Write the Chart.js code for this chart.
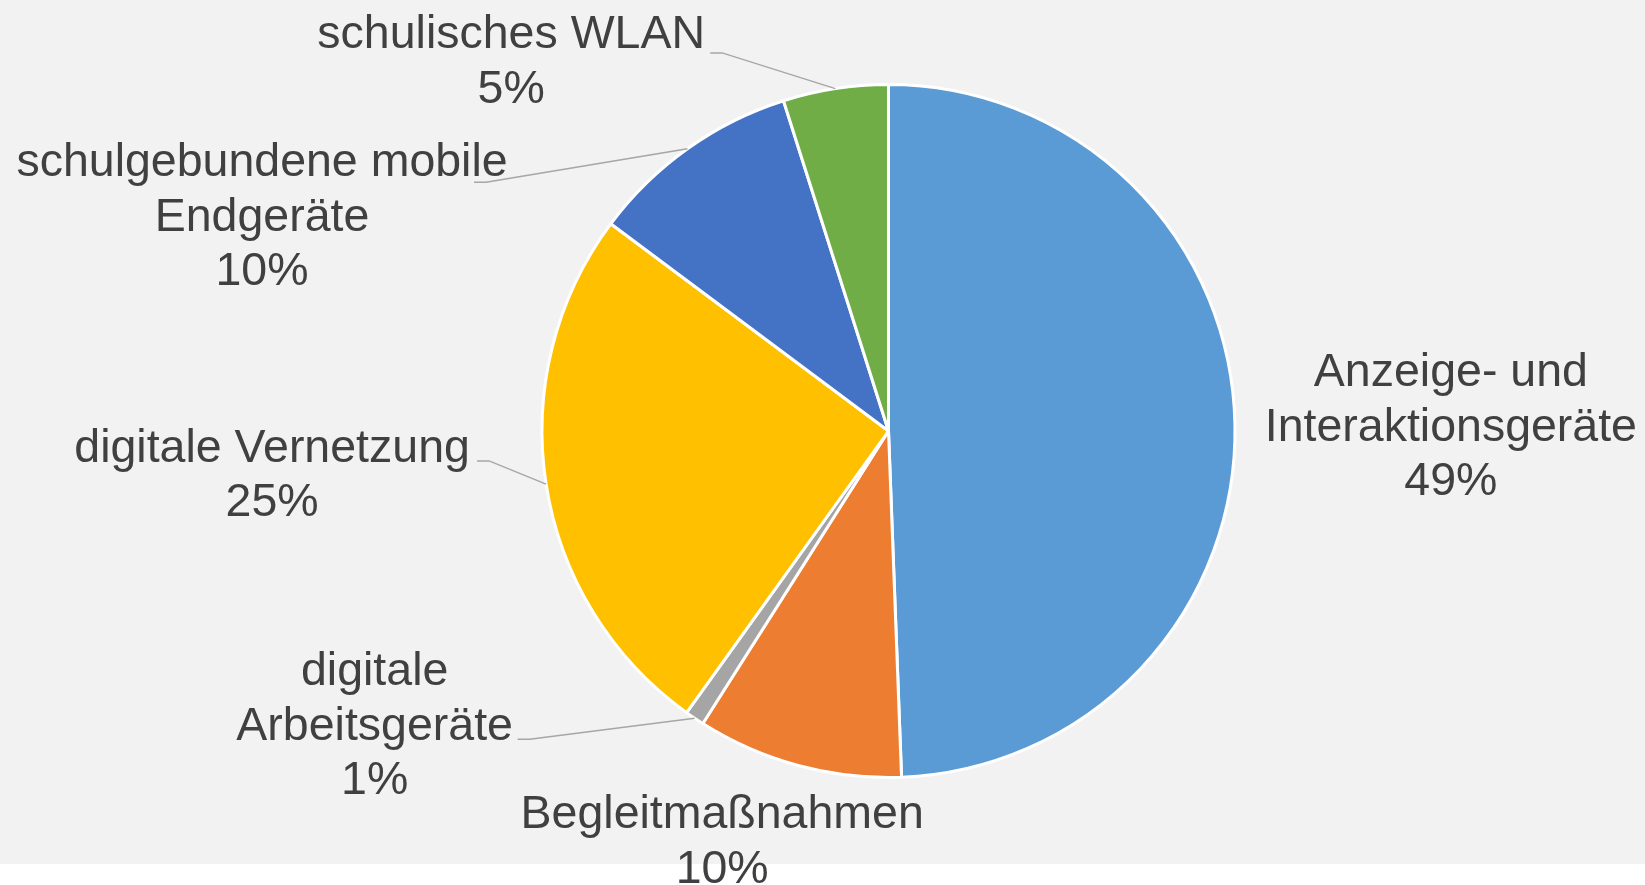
<!DOCTYPE html>
<html>
<head>
<meta charset="utf-8">
<script src="https://cdn.jsdelivr.net/npm/chart.js@4.4.0/dist/chart.umd.min.js"></script>
<style>
    html, body { margin: 0; padding: 0; background: #fff; }
    #wrap {
        position: relative;
        width: 1645px;
        height: 885px;
        background: linear-gradient(#f1f2f1 0, #f1f2f1 864px, #fff 864px);
    }
    canvas { display: block; }
</style>
</head>
<body>
<div id="wrap"><canvas id="budgetPieChart" width="1645" height="885"></canvas></div>
<script>
// data, clockwise from 12 o'clock
const categories = [
    'Anzeige- und Interaktionsgeräte',
    'Begleitmaßnahmen',
    'digitale Arbeitsgeräte',
    'digitale Vernetzung',
    'schulgebundene mobile Endgeräte',
    'schulisches WLAN'
];
const shares = [49.4, 9.6, 0.9, 25.3, 9.9, 4.9];
const sliceColors = ['#5b9bd5', '#ed7d31', '#a5a5a5', '#ffc000', '#4472c4', '#70ad47'];

// label layout: center relative to pie center (in radii), wrap width, leader start offset (px)
const labelSpots = [[1.623, -0.018], [-0.48, 1.18], [-1.483, 0.846], [-1.779, 0.121], [-1.808, -0.623], [-1.089, -1.071]];
const labelWrap = [380, 460, 300, 460, 520, 460];
const leaderFrom = [null, null, [143, 15], [205, -12], [212, -33], [199, -7]];

const FONT = "46.5px 'Liberation Sans', Arial, sans-serif";
const LINE_H = 54.5;
const TEXT_NUDGE = 3;

function wrapText(ctx, text, maxWidth) {
    let words = text.split(' ');
    let lines = [];
    let cur = '';
    words.forEach(w => {
        let test = cur ? cur + ' ' + w : w;
        if (cur && ctx.measureText(test).width > maxWidth) {
            lines.push(cur);
            cur = w;
        } else {
            cur = test;
        }
    });
    if (cur) lines.push(cur);
    return lines;
}

const pieLabels = {
    id: 'pieLabels',
    afterDatasetsDraw(chart) {
        let ctx = chart.ctx;
        let meta = chart.getDatasetMeta(0);
        let total = shares.reduce((a, b) => a + b, 0);
        ctx.save();
        ctx.font = FONT;
        ctx.fillStyle = '#404040';
        ctx.textAlign = 'center';
        ctx.textBaseline = 'middle';
        meta.data.forEach((arc, i) => {
            let p = arc.getProps(['x', 'y', 'startAngle', 'endAngle', 'outerRadius'], true);
            let cx = p.x + labelSpots[i][0] * p.outerRadius;
            let cy = p.y + labelSpots[i][1] * p.outerRadius;
            let lines = wrapText(ctx, categories[i], labelWrap[i]);
            lines.push(Math.round(shares[i] / total * 100) + '%');
            let top = cy - (lines.length - 1) * LINE_H / 2 + TEXT_NUDGE;
            lines.forEach((ln, k) => ctx.fillText(ln, cx, top + k * LINE_H));

            if (leaderFrom[i]) {
                let mid = (p.startAngle + p.endAngle) / 2;
                let ex = p.x + Math.cos(mid) * p.outerRadius;
                let ey = p.y + Math.sin(mid) * p.outerRadius;
                let sx = cx + leaderFrom[i][0];
                let sy = cy + leaderFrom[i][1];
                ctx.beginPath();
                ctx.strokeStyle = '#a6a6a6';
                ctx.lineWidth = 1.5;
                ctx.moveTo(sx, sy);
                ctx.lineTo(sx + 12, sy);
                ctx.lineTo(ex, ey);
                ctx.stroke();
            }
        });
        ctx.restore();
    }
};

new Chart(document.getElementById('budgetPieChart'), {
    type: 'pie',
    data: {
        labels: categories,
        datasets: [{
            data: shares,
            backgroundColor: sliceColors,
            borderColor: '#ffffff',
            borderWidth: 3,
            hoverOffset: 0
        }]
    },
    options: {
        responsive: false,
        devicePixelRatio: 1,
        animation: false,
        layout: {
            padding: {left: 540.5, top: 83, right: 408.5, bottom: 106}
        },
        plugins: {
            legend: {display: false},
            tooltip: {enabled: false},
            title: {display: false}
        }
    },
    plugins: [pieLabels]
});
</script>
</body>
</html>
